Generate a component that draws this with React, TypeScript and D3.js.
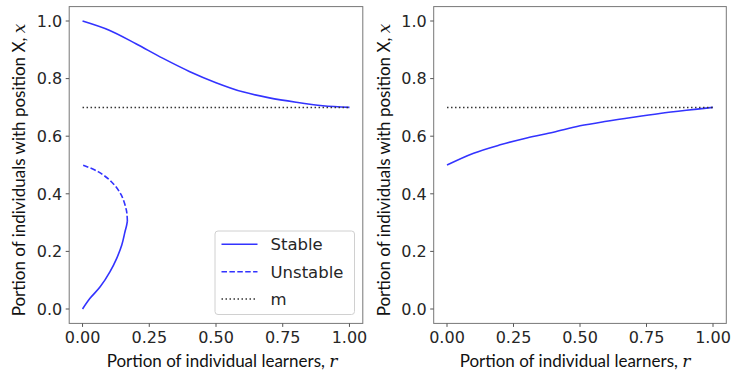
import React from 'react';
import * as d3 from 'd3';

// upper stable branch, left panel (r -> x)
const upperR = [0, 0.1, 0.2, 0.3, 0.4, 0.5, 0.6, 0.7, 0.8, 0.9, 1.0];
const upperX = [1.0, 0.968, 0.921, 0.871, 0.825, 0.786, 0.754, 0.733, 0.718, 0.706, 0.7];

// lower stable branch, left panel (x -> r)
const lowStableX = [0, 0.037, 0.077, 0.130, 0.176, 0.222, 0.268, 0.29, 0.305];
const lowStableR = [0, 0.028, 0.066, 0.103, 0.128, 0.147, 0.159, 0.165, 0.168];

// unstable branch, left panel (x -> r)
const unstableX = [0.305, 0.322, 0.344, 0.396, 0.442, 0.477, 0.5];
const unstableR = [0.168, 0.167, 0.164, 0.145, 0.108, 0.058, 0];

// right panel stable curve
const rightR = [0, 0.1, 0.2, 0.3, 0.4, 0.5, 0.6, 0.7, 0.8, 0.9, 1.0];
const rightX = [0.5, 0.541, 0.570, 0.594, 0.614, 0.636, 0.652, 0.666, 0.679, 0.69, 0.7];

const mLevel = 0.7;
const xTicks = [0, 0.25, 0.5, 0.75, 1.0];
const yTicks = [0, 0.2, 0.4, 0.6, 0.8, 1.0];
const legendItems = ['Stable', 'Unstable', 'm'];

const BLUE = '#3333ff';
const W = 731, H = 377;
const top = 6.6, bottom = 323.4;

type Pt = [number, number];

const Panel = ({ left, right, labelShift, curves, legend }: { left: number; right: number; labelShift: number; curves: { pts: Pt[]; dash?: string }[]; legend?: boolean }) => {
    const x = d3.scaleLinear().domain([-0.05, 1.05]).range([left, right]);
    const y = d3.scaleLinear().domain([-0.05, 1.05]).range([bottom, top]);

    const mLine = d3.line<number>().x(d => x(d)).y(() => y(mLevel));
    const gen = d3.line<Pt>().x(d => x(d[0])).y(d => y(d[1])).curve(d3.curveCatmullRom.alpha(0.5));

    const cx = (left + right) / 2;
    const labelFont = 'Lato, Carlito, sans-serif';

    return (
        <g>
            <rect x={left} y={top} width={right - left} height={bottom - top} fill="white" />
            {curves.map((c, i) => (
                <path key={i} d={gen(c.pts) || ''} fill="none" stroke={BLUE} strokeWidth={1.6}
                    strokeDasharray={c.dash} />
            ))}
            <path d={mLine([0, 1]) || ''} stroke="#333" strokeWidth={1.5} strokeDasharray="1.5,2.5" fill="none" />
            <rect x={left} y={top} width={right - left} height={bottom - top} fill="none" stroke="#777" strokeWidth={1} />

            {xTicks.map(t => (
                <g key={'x' + t}>
                    <line x1={x(t)} x2={x(t)} y1={bottom} y2={bottom + 3.5} stroke="#555" />
                    <text x={x(t)} y={bottom + 20} textAnchor="middle" fontSize={16}
                        fontFamily="DejaVu Sans" fill="#262626">{t.toFixed(2)}</text>
                </g>
            ))}
            {yTicks.map(t => (
                <g key={'y' + t}>
                    <line x1={left} x2={left - 3.5} y1={y(t)} y2={y(t)} stroke="#555" />
                    <text x={left - 7} y={y(t)} dy="0.36em" textAnchor="end" fontSize={16}
                        fontFamily="DejaVu Sans" fill="#262626">{t.toFixed(1)}</text>
                </g>
            ))}

            <text x={cx + labelShift} y={367} textAnchor="middle" fontSize={17} fontFamily={labelFont} fill="#111">
                Portion of individual learners, <tspan fontFamily="DejaVu Serif" fontStyle="italic">r</tspan>
            </text>
            <text transform={`translate(${left - 44},${(top + bottom) / 2 + 5}) rotate(-90)`} textAnchor="middle"
                fontSize={17} fontFamily={labelFont} fill="#111">
                Portion of individuals with position X, <tspan fontFamily="DejaVu Serif" fontStyle="italic">x</tspan>
            </text>

            {legend && (
                <g>
                    <rect x={215} y={231} width={139.5} height={83.5} rx={3} fill="white" fillOpacity={0.8} stroke="#d0d0d0" />
                    {legendItems.map((name, i) => {
                        const ly = 244.3 + i * 27.4;
                        return (
                            <g key={name}>
                                <line x1={221.5} x2={257.5} y1={ly} y2={ly}
                                    stroke={i === 2 ? '#333' : BLUE} strokeWidth={i === 2 ? 1.5 : 1.6}
                                    strokeDasharray={i === 1 ? '5.5,2.4' : i === 2 ? '1.5,2.5' : undefined} />
                                <text x={270.5} y={ly} dy="0.36em" fontSize={16.5} fontFamily="DejaVu Sans" fill="#262626">{name}</text>
                            </g>
                        );
                    })}
                </g>
            )}
        </g>
    );
};

export default function App() {
    const upper: Pt[] = upperR.map((r, i) => [r, upperX[i]]);
    const lowStable: Pt[] = lowStableX.map((v, i) => [lowStableR[i], v]);
    const unstable: Pt[] = unstableX.map((v, i) => [unstableR[i], v]);
    const rightCurve: Pt[] = rightR.map((r, i) => [r, rightX[i]]);

    return (
        <svg width={W} height={H} style={{ position: 'absolute', left: 0, top: 0, background: 'white' }}>
            <Panel left={69.2} right={362.8} labelShift={6}
                curves={[
                    { pts: upper },
                    { pts: lowStable },
                    { pts: unstable, dash: '5.5,2.4' },
                ]}
                legend />
            <Panel left={433.7} right={726.3} labelShift={-5} curves={[{ pts: rightCurve }]} />
        </svg>
    );
}
